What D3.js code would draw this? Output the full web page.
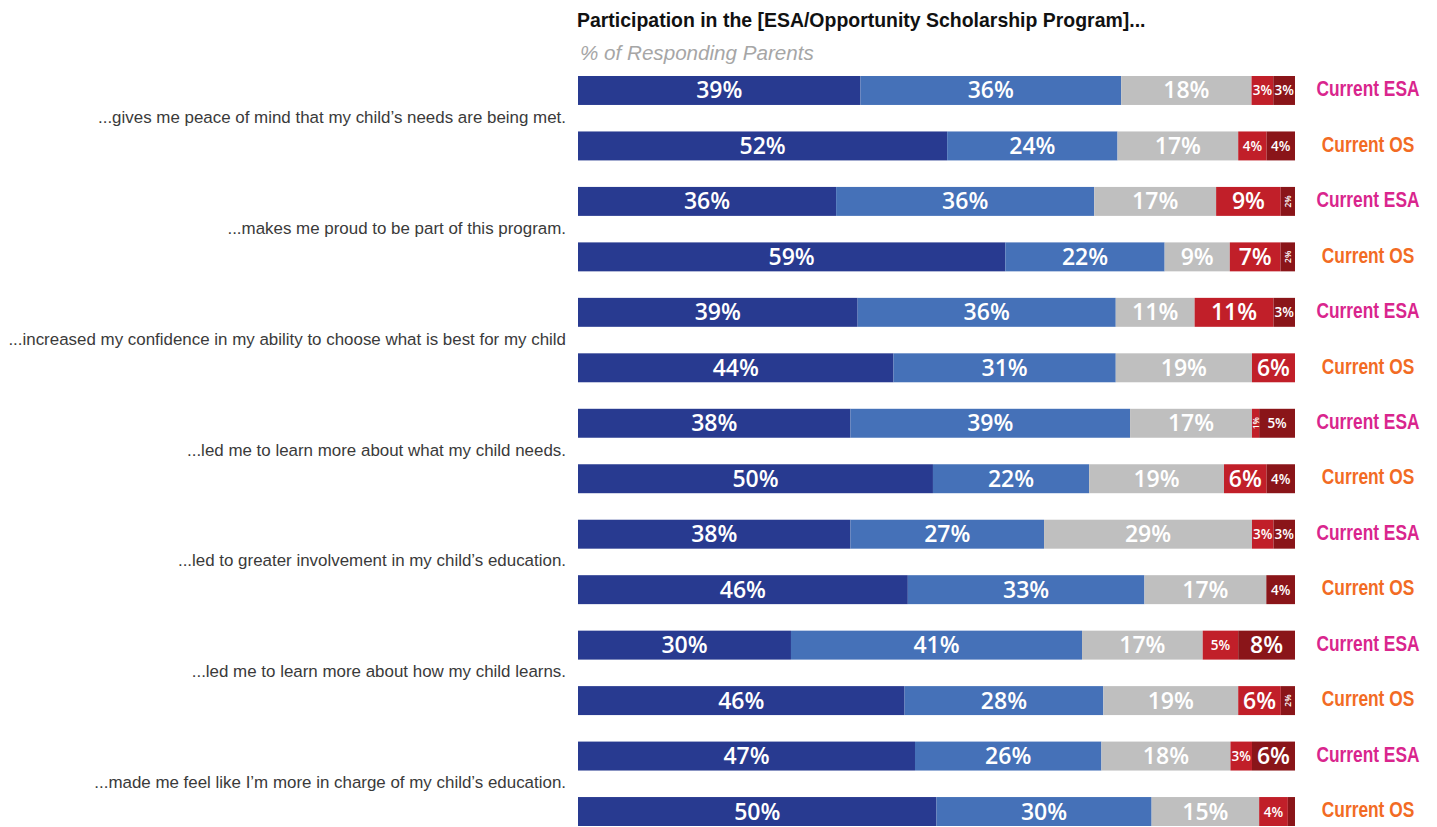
<!DOCTYPE html>
<html>
<head>
<meta charset="utf-8">
<script src="https://cdn.jsdelivr.net/npm/d3@7"></script>
<style>
  html, body { margin: 0; padding: 0; background: #fff; }
  svg { display: block; }
  .narrow { font-family: "Liberation Sans", Arial, sans-serif; }
  .barlabel { font-family: "Open Sans", Lato, sans-serif; font-weight: 600; fill: #fff; }
</style>
</head>
<body>
<svg id="chart" width="1437" height="827"></svg>
<script>
// Statements (one pair of bars each)
const statements = [
  "...gives me peace of mind that my child\u2019s needs are being met.",
  "...makes me proud to be part of this program.",
  "...increased my confidence in my ability to choose what is best for my child",
  "...led me to learn more about what my child needs.",
  "...led to greater involvement in my child\u2019s education.",
  "...led me to learn more about how my child learns.",
  "...made me feel like I\u2019m more in charge of my child\u2019s education."
];
const groups = ["Current ESA", "Current OS"];
const levels = ["Strongly agree", "Agree", "Neutral", "Disagree", "Strongly disagree"];

// % of responding parents, per statement, in the order of `levels`
const esaValues = [
  [39, 36, 18, 3, 3],
  [36, 36, 17, 9, 2],
  [39, 36, 11, 11, 3],
  [38, 39, 17, 1, 5],
  [38, 27, 29, 3, 3],
  [30, 41, 17, 5, 8],
  [47, 26, 18, 3, 6]
];
const osValues = [
  [52, 24, 17, 4, 4],
  [59, 22, 9, 7, 2],
  [44, 31, 19, 6, 0],
  [50, 22, 19, 6, 4],
  [46, 33, 17, 0, 4],
  [46, 28, 19, 6, 2],
  [50, 30, 15, 4, 1]
];
// segments drawn without a value label (statement index, level index, group)
const unlabeled = [[6, 4, 1]];

const levelColors = ["#283a90", "#4571b8", "#bfbfbf", "#c11f29", "#8a1519"];
const groupColors = ["#d9258d", "#f26b24"];

const svg = d3.select("#chart");

// Condensed look: draw the text, then squeeze it horizontally to a given width
// (or by a given factor). Returns the horizontal factor used.
function narrowText(parent, str, x, y, opts) {
  const g = parent.append("g");
  const t = g.append("text").attr("class", "narrow")
    .attr("font-size", opts.size)
    .attr("font-weight", opts.weight || 400)
    .attr("font-style", opts.style || "normal")
    .attr("fill", opts.fill)
    .attr("text-anchor", opts.anchor || "start")
    .attr("dominant-baseline", opts.baseline || "auto")
    .text(str);
  const w = t.node().getComputedTextLength();
  const sx = opts.scale || (opts.width / w);
  g.attr("transform", `translate(${x},${y}) scale(${sx},1)`);
  return sx;
}

// one row per statement x group
const rows = [];
statements.forEach((s, i) => {
  rows.push({ id: i * 2, statement: i, group: 0, values: esaValues[i] });
  rows.push({ id: i * 2 + 1, statement: i, group: 1, values: osValues[i] });
});

const y = d3.scaleBand()
  .domain(rows.map(r => r.id))
  .range([76, 826])
  .paddingInner(0.478)
  .paddingOuter(0);

const x0 = 578, x1 = 1295;

// title + subtitle
narrowText(svg, "Participation in the [ESA/Opportunity Scholarship Program]...", 577, 26.5,
  { size: 20, weight: 700, fill: "#111", width: 569 });
narrowText(svg, "% of Responding Parents", 580, 59.5,
  { size: 19.5, style: "italic", fill: "#a6a6a6", width: 234 });

const color = d3.scaleOrdinal().domain(levels).range(levelColors);

let groupScale = null;
rows.forEach(r => {
  const total = d3.sum(r.values);
  const x = d3.scaleLinear().domain([0, total]).range([x0, x1]);
  const g = svg.append("g");
  let acc = 0;
  const segs = r.values.map((v, k) => {
    const s = { v, k, start: acc, end: acc + v };
    acc += v;
    return s;
  }).filter(s => s.v > 0);

  g.selectAll("rect").data(segs).join("rect")
    .attr("x", d => x(d.start))
    .attr("y", y(r.id))
    .attr("width", d => x(d.end) - x(d.start))
    .attr("height", y.bandwidth())
    .attr("fill", d => color(levels[d.k]));

  const cy = y(r.id) + y.bandwidth() / 2;
  segs.forEach(d => {
    if (unlabeled.some(u => u[0] === r.statement && u[1] === d.k && u[2] === r.group)) return;
    const w = x(d.end) - x(d.start);
    const cx = (x(d.start) + x(d.end)) / 2;
    const t = g.append("text").attr("class", "barlabel")
      .attr("text-anchor", "middle")
      .attr("dominant-baseline", "central")
      .text(d.v + "%");
    if (w >= 38) {
      t.attr("x", cx).attr("y", cy - 1).attr("font-size", 23);
    } else if (w >= 17) {
      t.attr("x", cx).attr("y", cy).attr("font-size", 13.5);
    } else {
      t.attr("font-size", 8.5)
        .attr("transform", `translate(${cx},${cy}) rotate(-90)`);
    }
  });

  // group label on the right
  const opts = { size: 21.5, weight: 700, fill: groupColors[r.group], anchor: "middle", baseline: "central" };
  if (groupScale) opts.scale = groupScale; else opts.width = 103;
  const sx = narrowText(svg, groups[r.group], 1368, cy - 2, opts);
  if (!groupScale) groupScale = sx;
});

// statement labels, centred on each pair of bars
const statementScale = (() => {
  const probe = svg.append("text").attr("class", "narrow").attr("font-size", 17)
    .text(statements[2]);
  const w = probe.node().getComputedTextLength();
  probe.remove();
  return 558 / w;
})();
statements.forEach((s, i) => {
  const top = y(i * 2);
  const bottom = y(i * 2 + 1) + y.bandwidth();
  narrowText(svg, s, 566, (top + bottom) / 2 - 1,
    { size: 17, fill: "#3a3a3a", anchor: "end", baseline: "central", scale: statementScale });
});
</script>
</body>
</html>
